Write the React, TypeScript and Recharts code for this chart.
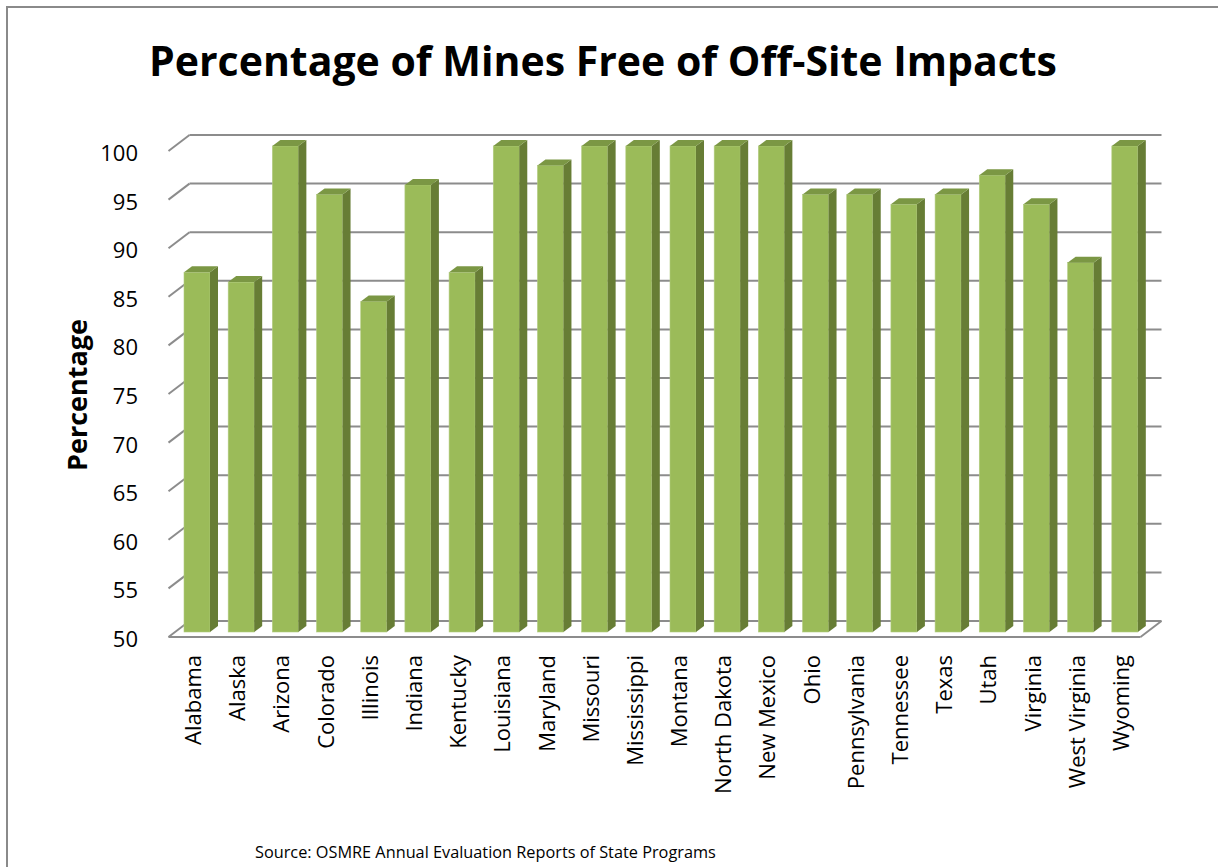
import { BarChart, Bar, XAxis, YAxis, CartesianGrid } from 'recharts';

const states = [
    'Alabama', 'Alaska', 'Arizona', 'Colorado', 'Illinois', 'Indiana', 'Kentucky', 'Louisiana',
    'Maryland', 'Missouri', 'Mississippi', 'Montana', 'North Dakota', 'New Mexico', 'Ohio',
    'Pennsylvania', 'Tennessee', 'Texas', 'Utah', 'Virginia', 'West Virginia', 'Wyoming',
];
const percentages = [87, 86, 100, 95, 84, 96, 87, 100, 98, 100, 100, 100, 100, 100, 95, 95, 94, 95, 97, 94, 88, 100];
const yTicks = [50, 55, 60, 65, 70, 75, 80, 85, 90, 95, 100];

const data = states.map((state, i) => ({ state, value: percentages[i] }));

const FONT = '"Open Sans", sans-serif';
const W = 1202;
const H = 859;
const M = { top: 138, right: 63, bottom: 85, left: 107 };
const PLOT_L = M.left + 60;
const PLOT_R = W - M.right;
// depth of the 3d box: front plane / back wall relative to the bar plane
const FRONT = { dx: -6.5, dy: 5 };
const BACK = { dx: 14.5, dy: -11 };
const GRID = '#8c8c8c';

function Bar3D(props: any) {
    const { x, y, width, height } = props;
    const dx = 8, dy = 6;
    return (
        <g>
            <rect x={x} y={y} width={width} height={height} fill="#9bbb59" stroke="#b3cc80" strokeWidth={0.6} />
            <polygon
                points={`${x + width},${y} ${x + width + dx},${y - dy} ${x + width + dx},${y + height - dy} ${x + width},${y + height}`}
                fill="#677d35"
            />
            <polygon
                points={`${x},${y} ${x + dx},${y - dy} ${x + width + dx},${y - dy} ${x + width},${y}`}
                fill="#7b9744"
            />
        </g>
    );
}

function GridLine(p: any) {
    const y = p.y1;
    const isFloor = Math.abs(y - (H - M.bottom - 150)) < 1;
    return (
        <g key={p.key}>
            <line x1={PLOT_L + BACK.dx} y1={y + BACK.dy} x2={PLOT_R + BACK.dx} y2={y + BACK.dy} stroke={GRID} strokeWidth={2} />
            <line x1={PLOT_L + FRONT.dx} y1={y + FRONT.dy} x2={PLOT_L + BACK.dx} y2={y + BACK.dy} stroke={GRID} strokeWidth={2} />
            {isFloor && (
                <>
                    <line x1={PLOT_L + FRONT.dx} y1={y + FRONT.dy} x2={PLOT_R + FRONT.dx} y2={y + FRONT.dy} stroke={GRID} strokeWidth={2} />
                    <line x1={PLOT_R + FRONT.dx} y1={y + FRONT.dy} x2={PLOT_R + BACK.dx} y2={y + BACK.dy} stroke={GRID} strokeWidth={2} />
                </>
            )}
        </g>
    );
}

function YTick({ y, payload }: any) {
    return (
        <text x={PLOT_L - 37} y={y + 6} textAnchor="end" dominantBaseline="central" fontFamily={FONT} fontSize={22} fill="#000">
            {payload.value}
        </text>
    );
}

function XTick({ x, payload }: any) {
    const tx = x - 5;
    const ty = H - M.bottom - 150 + 23;
    return (
        <text x={tx} y={ty} transform={`rotate(-90 ${tx} ${ty})`} textAnchor="end" dominantBaseline="central" fontFamily={FONT} fontSize={22} fill="#000">
            {payload.value}
        </text>
    );
}

export default function App() {
    return (
        <div style={{ position: 'fixed', left: 6, top: 6, width: 1240, height: 900, border: '2px solid #8a8a8a', background: '#fff' }}>
            <div style={{ position: 'absolute', left: 0, top: 0, width: W, height: H }}>
                <div style={{ position: 'absolute', left: 0, width: 1190, top: 28, textAlign: 'center', fontFamily: FONT, fontWeight: 700, fontSize: 41, color: '#000', lineHeight: '48px', whiteSpace: 'nowrap' }}>
                    Percentage of Mines Free of Off-Site Impacts
                </div>
                <div style={{ position: 'absolute', left: 69 - 100, top: 387 - 18, width: 200, height: 36, transform: 'rotate(-90deg)', textAlign: 'center', fontFamily: FONT, fontWeight: 700, fontSize: 27, lineHeight: '36px', color: '#000' }}>
                    Percentage
                </div>
                <div style={{ position: 'absolute', left: 247, top: 832, fontFamily: FONT, fontSize: 16.3, lineHeight: '24px', color: '#000', whiteSpace: 'nowrap' }}>
                    Source: OSMRE Annual Evaluation Reports of State Programs
                </div>
                <BarChart width={W} height={H} data={data} margin={M} barSize={26}>
                    <CartesianGrid horizontal={GridLine} vertical={false} />
                    <XAxis dataKey="state" height={150} tickLine={false} axisLine={false} tick={<XTick />} interval={0} />
                    <YAxis type="number" domain={[50, 100]} ticks={yTicks} width={60} tickLine={false} axisLine={false} tick={<YTick />} />
                    <Bar dataKey="value" shape={<Bar3D />} isAnimationActive={false} />
                </BarChart>
            </div>
        </div>
    );
}
